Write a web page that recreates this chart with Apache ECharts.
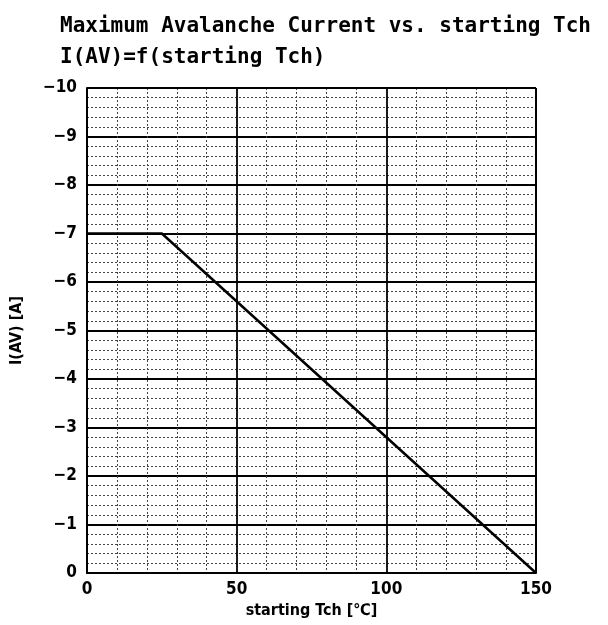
<!DOCTYPE html>
<html><head><meta charset="utf-8">
<script src="https://cdn.jsdelivr.net/npm/echarts@6/dist/echarts.min.js"></script>
<style>html,body{margin:0;padding:0;background:#fff}#c{width:608px;height:625px}</style>
</head><body><div id="c"></div>
<script>
var titleLines = ["Maximum Avalanche Current vs. starting Tch", "I(AV)=f(starting Tch)"];
var xName = "starting Tch [℃]";
var yName = "I(AV) [A]";
var tch = [0, 25, 150];
var iav = [-7, -7, 0];
var xTicks = {min: 0, max: 150, interval: 50};
var yTicks = {min: -10, max: 0, interval: 1};

var chart = echarts.init(document.getElementById('c'), null, {renderer: 'canvas'});
var lblFont = {color: '#000', fontFamily: 'DejaVu Sans Condensed', fontWeight: 'bold', fontSize: 17};
chart.setOption({
  animation: false,
  backgroundColor: '#fff',
  title: {
    text: titleLines.join('\n'),
    left: 55, top: 6,
    textStyle: {fontFamily: 'DejaVu Sans Mono', fontWeight: 'bold', fontSize: 21, color: '#000', lineHeight: 31}
  },
  grid: {left: 87, right: 72, top: 88, bottom: 52, containLabel: false},
  xAxis: {
    type: 'value', min: xTicks.min, max: xTicks.max, interval: xTicks.interval,
    name: xName, nameLocation: 'middle', nameGap: 30,
    nameTextStyle: {color: '#000', fontFamily: 'DejaVu Sans Condensed', fontWeight: 'bold', fontSize: 16},
    axisLine: {show: true, lineStyle: {color: '#000', width: 2}},
    axisTick: {show: false},
    axisLabel: Object.assign({margin: 8}, lblFont),
    splitLine: {show: true, lineStyle: {color: '#000', width: 1.8}},
    minorTick: {show: false, splitNumber: 5},
    minorSplitLine: {show: true, lineStyle: {color: '#444', width: 1, type: [2, 2]}}
  },
  yAxis: {
    type: 'value', min: yTicks.min, max: yTicks.max, interval: yTicks.interval, inverse: true,
    name: yName, nameLocation: 'middle', nameGap: 62, nameRotate: 90,
    nameTextStyle: {color: '#000', fontFamily: 'DejaVu Sans Condensed', fontWeight: 'bold', fontSize: 16},
    axisLine: {show: true, lineStyle: {color: '#000', width: 2}},
    axisTick: {show: false},
    axisLabel: Object.assign({margin: 10, formatter: function (v) { return String(v).replace('-', '\u2212'); }}, lblFont),
    splitLine: {show: true, lineStyle: {color: '#000', width: 1.8}},
    minorTick: {show: false, splitNumber: 5},
    minorSplitLine: {show: true, lineStyle: {color: '#444', width: 1, type: [2, 2]}}
  },
  series: [{
    type: 'line',
    data: tch.map(function (t, i) { return [t, iav[i]]; }),
    showSymbol: false,
    lineStyle: {color: '#000', width: 2.5},
    z: 5
  }, {
    type: 'line', data: [], markLine: {silent: true, symbol: 'none', label: {show: false},
      lineStyle: {color: '#000', width: 2, type: 'solid'},
      data: [{xAxis: xTicks.max}, {yAxis: yTicks.min}]}
  }]
});
</script></body></html>
